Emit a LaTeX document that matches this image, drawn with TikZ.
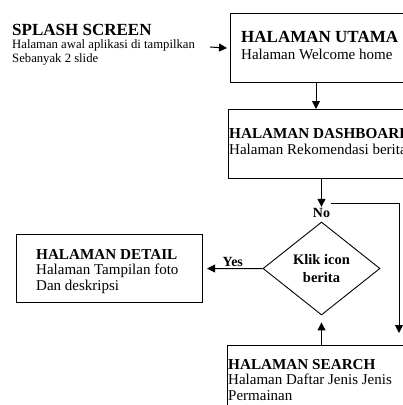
\documentclass[tikz,border=0pt]{standalone}
\usepackage{fontspec}
\setmainfont{Liberation Serif}
\usetikzlibrary{arrows.meta,shapes.geometric,positioning}

\begin{document}
\begin{tikzpicture}[x = 1pt, y = -1pt,
  box/.style = {draw, line width = 1.1pt, anchor = north west, inner sep = 0pt},
  txt/.style = {anchor = base west, align = left, inner sep = 0pt, font = \fontsize{15}{15.5}\selectfont},
  dec/.style = {draw, diamond, line width = 0.9pt, inner sep = 0pt, minimum width = 117pt, minimum height = 93pt, align = center, font = \bfseries\fontsize{14.5}{18}\selectfont},
  lbl/.style = {inner sep = 1pt, font = \bfseries\fontsize{14}{16}\selectfont},
  arr/.style = {-{Triangle[length = 8pt, width = 8pt]}, line width = 1pt}]
\useasboundingbox (0,0) rectangle (403,405);
\clip (0,0) rectangle (403,405);

% splash
\node[txt, font = \fontsize{12.7}{14}\selectfont] (1) at (12,62) {{\bfseries\fontsize{17}{17}\selectfont SPLASH SCREEN}\\[-1pt] Halaman awal aplikasi di tampilkan\\ Sebanyak 2 slide};
\coordinate (1a) at (210,47);

% boxes
\node[box, minimum width = 200pt, minimum height = 69pt] (2) at (230,13) {};
\node[txt] (2t) at (241,59) {{\bfseries\fontsize{17}{17}\selectfont HALAMAN UTAMA}\\[1.5pt] Halaman Welcome home};
\node[box, minimum width = 200pt, minimum height = 69pt] (3) at (228,109) {};
\node[txt] (3t) at (229,154) {{\bfseries\fontsize{15.2}{15}\selectfont HALAMAN DASHBOARD}\\ Halaman Rekomendasi berita};
\node[box, minimum width = 200pt, minimum height = 80pt] (4) at (227,345) {};
\node[txt] (4t) at (228,400) {{\bfseries\fontsize{15.2}{16}\selectfont HALAMAN SEARCH}\\ Halaman Daftar Jenis Jenis\\ Permainan};
\node[box, minimum width = 186pt, minimum height = 68pt] (8) at (16,234) {};
\node[txt] (8t) at (36,290) {{\bfseries\fontsize{15.2}{15.5}\selectfont HALAMAN DETAIL}\\ Halaman Tampilan foto\\ Dan deskripsi};

% decision
\node[dec] (5) at (321.5,268.5) {Klik icon\\ berita};
\node[lbl, above = 3pt of 5.north] (6) {No};
\coordinate (7) at (399,333);

% arrows
\draw[arr] (1a) -- ([xshift = -3pt]2.west);
\draw[arr] (2.south -| 316,0) -- (3.north -| 316,0);
\draw[arr] (3.south -| 5.north) -- (6.north);
\draw[arr] ([yshift = 3pt]6.north east) -| (7);
\draw[arr] (4.north -| 5.south) -- ([yshift = -7pt]5.south);
\draw[arr] (5.west) -- ([xshift = 4pt]8.east);
\path (5.west) -- (8.east) node[lbl, midway, above = 1pt] (9) {Yes};
\end{tikzpicture}
\end{document}
